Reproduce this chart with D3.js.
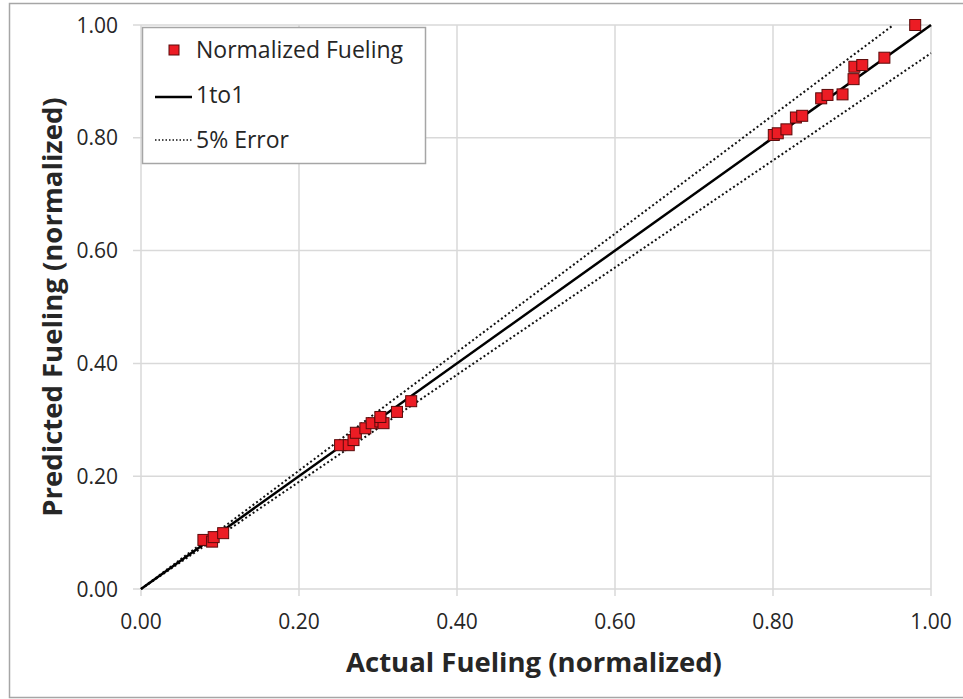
<!DOCTYPE html>
<html>
<head>
<meta charset="utf-8">
<script src="https://cdn.jsdelivr.net/npm/d3@7"></script>
<style>
  body { margin: 0; background: #fff; }
  svg { display: block; font-family: "Open Sans", "Noto Sans", sans-serif; }
</style>
</head>
<body>
<svg class="scatter" width="963" height="699"></svg>
<script>
// measured points (actual vs predicted, normalized)
const actual = [0.079, 0.090, 0.092, 0.104,
    0.252, 0.263, 0.269, 0.272, 0.284, 0.292, 0.303, 0.307, 0.303, 0.324, 0.342,
    0.801, 0.806, 0.817, 0.829, 0.837, 0.861, 0.869, 0.888, 0.902, 0.903, 0.913, 0.941, 0.980];
const predicted = [0.087, 0.084, 0.092, 0.099,
    0.255, 0.255, 0.264, 0.277, 0.285, 0.294, 0.297, 0.294, 0.305, 0.314, 0.333,
    0.805, 0.808, 0.815, 0.836, 0.839, 0.870, 0.876, 0.877, 0.904, 0.926, 0.929, 0.942, 1.000];
const tickValues = [0, 0.2, 0.4, 0.6, 0.8, 1.0];
const errorPct = 0.05;
const legendLabels = ['Normalized Fueling', '1to1', '5% Error'];

let svg = d3.select('.scatter');
const MARGIN = {left: 141, right: 33, top: 25, bottom: 110};
const W = 963, H = 699;

// outer frame
svg.append('rect')
    .attr('x', 9.5).attr('y', 3.5)
    .attr('width', W - 5).attr('height', 694)
    .attr('fill', 'none').attr('stroke', '#a6a6a6').attr('stroke-width', 1.5);

let xScale = d3.scaleLinear().domain([0, 1]).range([MARGIN.left, W - MARGIN.right + 1]);
let yScale = d3.scaleLinear().domain([0, 1]).range([H - MARGIN.bottom, MARGIN.top]);

// grid + ticks
let grid = svg.append('g').attr('stroke', '#d9d9d9').attr('stroke-width', 1.5);
grid.selectAll('.vg').data(tickValues).join('line')
    .attr('x1', d => xScale(d)).attr('x2', d => xScale(d))
    .attr('y1', yScale(1)).attr('y2', yScale(0) + 7);
grid.selectAll('.hg').data(tickValues).join('line')
    .attr('y1', d => yScale(d)).attr('y2', d => yScale(d))
    .attr('x1', xScale(0) - 8).attr('x2', xScale(1));

svg.append('g').selectAll('text').data(tickValues).join('text')
    .attr('x', d => xScale(d)).attr('y', yScale(0) + 40)
    .attr('text-anchor', 'middle')
    .attr('font-size', 21).attr('fill', '#262626')
    .text(d => d.toFixed(2));
svg.append('g').selectAll('text').data(tickValues).join('text')
    .attr('x', 118).attr('y', d => yScale(d))
    .attr('dy', '0.36em')
    .attr('text-anchor', 'end')
    .attr('font-size', 21).attr('fill', '#262626')
    .text(d => d.toFixed(2));

// axis titles
svg.append('text')
    .attr('x', 534).attr('y', 672)
    .attr('text-anchor', 'middle')
    .attr('font-size', 27.5).attr('font-weight', 'bold').attr('fill', '#262626')
    .text('Actual Fueling (normalized)');
svg.append('text')
    .attr('transform', `translate(62, 307) rotate(-90)`)
    .attr('text-anchor', 'middle')
    .attr('font-size', 27.5).attr('font-weight', 'bold').attr('fill', '#262626')
    .text('Predicted Fueling (normalized)');

// reference lines
let line = d3.line().x(d => xScale(d[0])).y(d => yScale(d[1]));
svg.append('path')
    .attr('d', line([[0, 0], [1 / (1 + errorPct), 1]]))
    .attr('fill', 'none').attr('stroke', '#111').attr('stroke-width', 2)
    .attr('stroke-dasharray', '2,2.5');
svg.append('path')
    .attr('d', line([[0, 0], [1, 1 - errorPct]]))
    .attr('fill', 'none').attr('stroke', '#111').attr('stroke-width', 2)
    .attr('stroke-dasharray', '2,2.5');
svg.append('path')
    .attr('d', line([[0, 0], [1, 1]]))
    .attr('fill', 'none').attr('stroke', '#000').attr('stroke-width', 2.5);

// points
const S = 11;
svg.append('g').selectAll('rect').data(actual.map((a, i) => [a, predicted[i]])).join('rect')
    .attr('x', d => xScale(d[0]) - S / 2).attr('y', d => yScale(d[1]) - S / 2)
    .attr('width', S).attr('height', S)
    .attr('fill', '#ec1c24').attr('stroke', '#5a0a0a').attr('stroke-width', 1);

// legend
let lg = svg.append('g');
lg.append('rect')
    .attr('x', 142.5).attr('y', 27.5).attr('width', 283).attr('height', 136)
    .attr('fill', '#fff').attr('stroke', '#a6a6a6').attr('stroke-width', 1.5);
lg.append('rect').attr('x', 169).attr('y', 45).attr('width', 10).attr('height', 10)
    .attr('fill', '#ec1c24').attr('stroke', '#5a0a0a').attr('stroke-width', 1);
lg.append('line').attr('x1', 155).attr('x2', 192).attr('y1', 97).attr('y2', 97)
    .attr('stroke', '#000').attr('stroke-width', 2.5);
lg.append('line').attr('x1', 155).attr('x2', 192).attr('y1', 140).attr('y2', 140)
    .attr('stroke', '#111').attr('stroke-width', 1.5).attr('stroke-dasharray', '1.5,2');
lg.selectAll('text.l').data(legendLabels).join('text')
    .attr('x', 196).attr('y', (d, i) => 50 + i * 45)
    .attr('dy', '0.36em')
    .attr('font-size', 23).attr('fill', '#262626')
    .text(d => d);
</script>
</body>
</html>
